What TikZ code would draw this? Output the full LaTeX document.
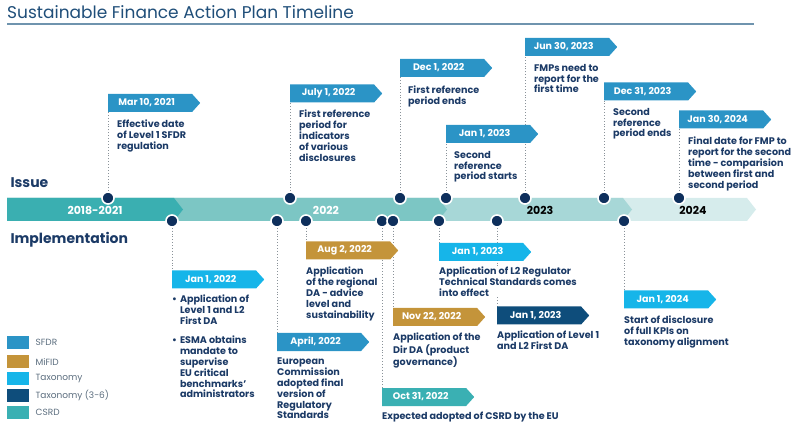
\documentclass[tikz,border=0pt]{standalone}
\usepackage{fontspec}
\setmainfont{Poppins}
\usepackage{tikz}
\usetikzlibrary{positioning,shapes.symbols,backgrounds}
\definecolor{titleblue}{HTML}{1F4E79}
\definecolor{titleline}{HTML}{6F94AE}
\definecolor{textnavy}{HTML}{1B3A66}
\definecolor{dotnavy}{HTML}{0E2F5C}
\definecolor{linkgray}{HTML}{8A9299}
\definecolor{leggray}{HTML}{5B6D7E}
\definecolor{sfdr}{HTML}{2B94C6}
\definecolor{mifid}{HTML}{C4943A}
\definecolor{taxo}{HTML}{16B5E9}
\definecolor{taxodark}{HTML}{0E4D7B}
\definecolor{csrd}{HTML}{3AB0B3}
\definecolor{segone}{HTML}{3AAFB1}
\definecolor{segtwo}{HTML}{7CC6C4}
\definecolor{segthree}{HTML}{A7D7D7}
\definecolor{segfour}{HTML}{D6ECEC}

\begin{document}
\begin{tikzpicture}[x=1pt,y=-1pt,
  tagbox/.style={signal,signal to=east,signal pointer angle=96,fill=#1,minimum width=92pt,minimum height=18pt,
    inner sep=0pt,anchor=west,text=white,font=\bfseries\fontsize{9.5}{10}\selectfont,execute at end node=\hspace*{7pt}},
  dotnode/.style={circle,fill=dotnavy,draw=white,line width=1.6pt,minimum size=12pt,inner sep=0pt},
  note/.style={anchor=north west,align=left,inner sep=0pt,fill=white,text=textnavy,font=\bfseries\fontsize{9.6}{10.8}\selectfont},
  link/.style={draw=linkgray,line width=0.9pt,dash pattern=on 0.9pt off 2pt},
  yearlbl/.style={font=\bfseries\fontsize{11}{13}\selectfont},
  rowlbl/.style={anchor=west,text=textnavy,font=\bfseries\fontsize{14}{16}\selectfont},
  legbox/.style={minimum width=22pt,minimum height=13pt,inner sep=0pt,fill=#1,anchor=north west},
  legtxt/.style={text=leggray,inner sep=0pt,font=\fontsize{9}{11}\selectfont}]
  \useasboundingbox (0,0) rectangle (800,427);

  % title
  \node[anchor=west,text=titleblue,font=\fontsize{17}{19}\selectfont,inner sep=0pt] (title) at (7,12) {Sustainable Finance Action Plan Timeline};
  \draw[titleline,line width=2pt] (7,24) -- (754,24);

  % timeline bar
  \fill[segfour] (7,198) -- (747,198) -- (756,209.5) -- (747,221) -- (7,221) -- cycle;
  \fill[segthree] (7,198) -- (623,198) -- (632,209.5) -- (623,221) -- (7,221) -- cycle;
  \fill[segtwo] (7,198) -- (438,198) -- (447,209.5) -- (438,221) -- (7,221) -- cycle;
  \fill[segone] (7,198) -- (174,198) -- (183,209.5) -- (174,221) -- (7,221) -- cycle;
  \node[yearlbl,text=white] (y1) at (95,210) {2018-2021};
  \node[yearlbl,text=white] (y2) at (326,210) {2022};
  \node[yearlbl,text=black] (y3) at (540,210) {2023};
  \node[yearlbl,text=black] (y4) at (693,210) {2024};

  \node[rowlbl] (issue) at (7,183) {Issue};
  \node[rowlbl] (impl) at (7,240) {Implementation};

  % issue dates
  \node[dotnode] (i1) at (108,198) {};
  \node[dotnode] (i2) at (290,198) {};
  \node[dotnode] (i3) at (400,198) {};
  \node[dotnode] (i4) at (446,198) {};
  \node[dotnode] (i5) at (525,198) {};
  \node[dotnode] (i6) at (604,198) {};
  \node[dotnode] (i7) at (679,198) {};

  \node[tagbox=sfdr] (t1) at (108,103) {Mar 10, 2021};
  \node[tagbox=sfdr] (t2) at (290,93.5) {July 1, 2022};
  \node[tagbox=sfdr] (t3) at (400,68) {Dec 1, 2022};
  \node[tagbox=sfdr] (t4) at (446,134) {Jan 1, 2023};
  \node[tagbox=sfdr] (t5) at (525,47) {Jun 30, 2023};
  \node[tagbox=sfdr] (t6) at (604,91.5) {Dec 31, 2023};
  \node[tagbox=sfdr] (t7) at (679,119.5) {Jan 30, 2024};

  \node[note] (nt1) at (117,120) {Effective date\\of Level 1 SFDR\\regulation};
  \node[note] (nt2) at (299,110) {First reference\\period for\\indicators\\of various\\disclosures};
  \node[note] (nt3) at (408,86) {First reference\\period ends};
  \node[note] (nt4) at (454,151) {Second\\reference\\period starts};
  \node[note] (nt5) at (534,64) {FMPs need to\\report for the\\first time};
  \node[note] (nt6) at (613,108) {Second\\reference\\period ends};
  \node[note] (nt7) at (688,137) {Final date for FMP to\\report for the second\\time - comparision\\between first and\\second period};

  % implementation dates
  \node[dotnode] (m1) at (172,221) {};
  \node[dotnode] (m2) at (277,221) {};
  \node[dotnode] (m3) at (306,221) {};
  \node[dotnode] (m4) at (382,221) {};
  \node[dotnode] (m5) at (393,221) {};
  \node[dotnode] (m6) at (439,221) {};
  \node[dotnode] (m7) at (497,221) {};
  \node[dotnode] (m8) at (624,221) {};

  \node[tagbox=taxo] (b1) at (172,279.5) {Jan 1, 2022};
  \node[tagbox=sfdr] (b2) at (277,342) {April, 2022};
  \node[tagbox=mifid] (b3) at (306,250.5) {Aug 2, 2022};
  \node[tagbox=csrd] (b4) at (382,397) {Oct 31, 2022};
  \node[tagbox=mifid] (b5) at (393,317) {Nov 22, 2022};
  \node[tagbox=taxo] (b6) at (439,252) {Jan 1, 2023};
  \node[tagbox=taxodark] (b7) at (497,315.5) {Jan 1, 2023};
  \node[tagbox=taxo] (b8) at (624,299.5) {Jan 1, 2024};

  \node[note] (nb1) at (172,295) {\begin{tabular}{@{}l@{\hspace{3pt}}l@{}}
    \textbullet & Application of\\ & Level 1 and L2\\ & First DA\\[8pt]
    \textbullet & ESMA obtains\\ & mandate to\\ & supervise\\ & EU critical\\ & benchmarks'\\ & administrators\end{tabular}};
  \node[note] (nb2) at (277,358) {European\\Commission\\adopted final\\version of\\Regulatory\\Standards};
  \node[note] (nb3) at (306,267) {Application\\of the regional\\DA - advice\\level and\\sustainability};
  \node[note] (nb4) at (382,412) {Expected adopted of CSRD by the EU};
  \node[note] (nb5) at (393,333) {Application of the\\Dir DA (product\\governance)};
  \node[note] (nb6) at (439,267) {Application of L2 Regulator\\Technical Standards comes\\into effect};
  \node[note] (nb7) at (497,331) {Application of Level 1\\and L2 First DA};
  \node[note] (nb8) at (624,316) {Start of disclosure\\of full KPIs on\\taxonomy alignment};

  % dotted leaders
  \begin{scope}[on background layer]
    \foreach \d/\t in {i1/t1,i2/t2,i3/t3,i4/t4,i5/t5,i6/t6,i7/t7}
      \draw[link] (\d) -- (\d |- \t.south);
    \foreach \d/\t in {m1/b1,m2/b2,m3/b3,m4/b4,m5/b5,m6/b6,m7/b7,m8/b8}
      \draw[link] (\d) -- (\d |- \t.north);
  \end{scope}

  % legend
  \node[legbox=sfdr] (lg1) at (7,336) {};
  \node[legbox=mifid] (lg2) at (7,355) {};
  \node[legbox=taxo] (lg3) at (7,372) {};
  \node[legbox=taxodark] (lg4) at (7,389) {};
  \node[legbox=csrd] (lg5) at (7,406) {};
  \node[legtxt,right=6pt of lg1] (lt1) {SFDR};
  \node[legtxt,right=6pt of lg2] (lt2) {MiFID};
  \node[legtxt,right=6pt of lg3] (lt3) {Taxonomy};
  \node[legtxt,right=6pt of lg4] (lt4) {Taxonomy (3-6)};
  \node[legtxt,right=6pt of lg5] (lt5) {CSRD};
\end{tikzpicture}
\end{document}
